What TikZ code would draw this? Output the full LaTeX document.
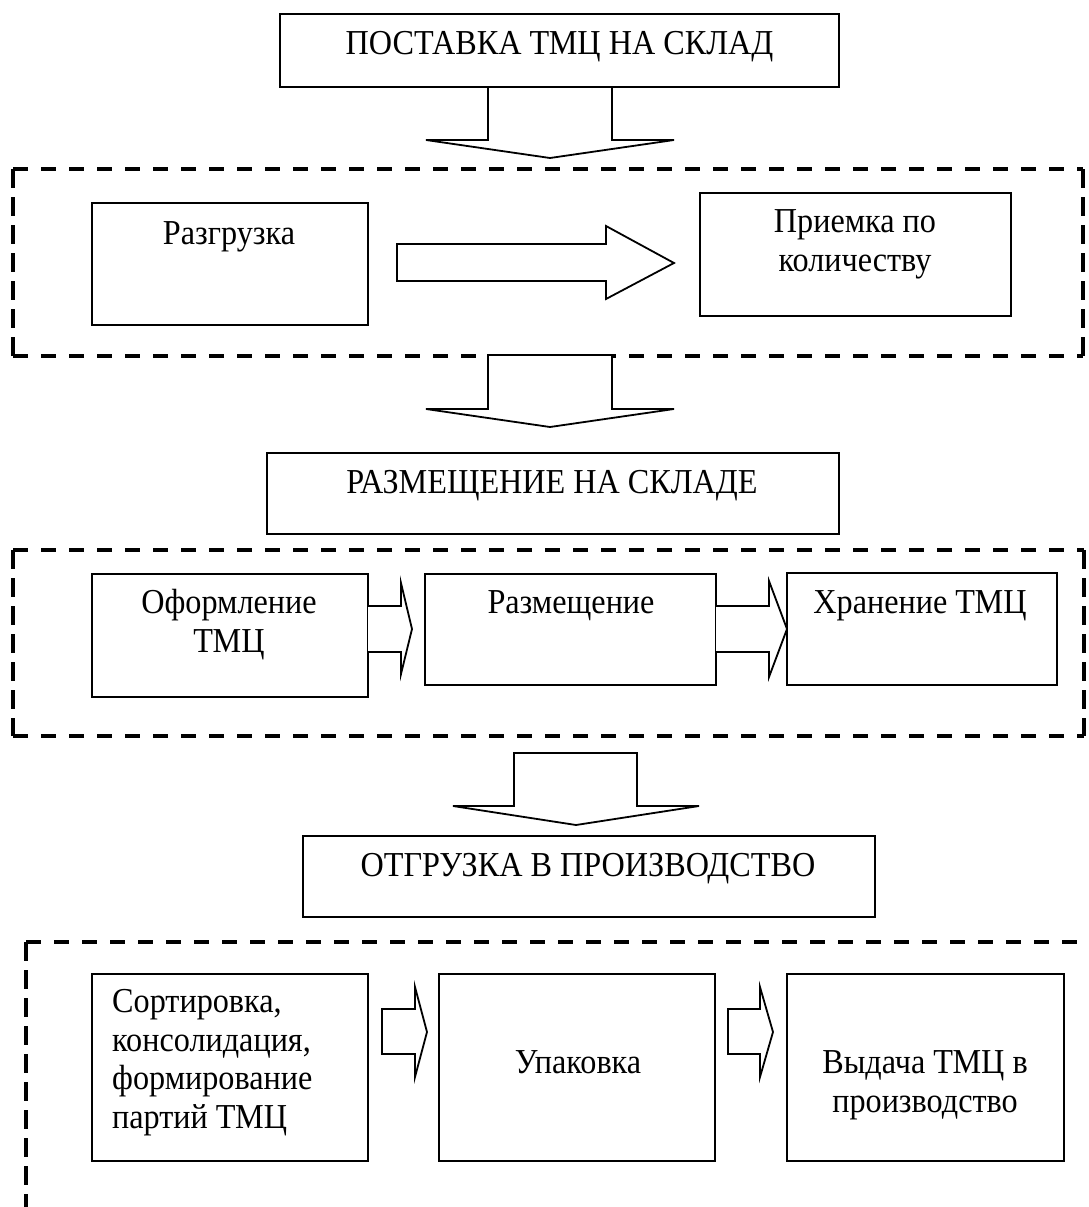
\documentclass[tikz,border=0pt]{standalone}
\usepackage{fontspec}
\setmainfont[FakeStretch=0.92]{Liberation Serif}
\begin{document}
\begin{tikzpicture}[x=1pt,y=-1pt,
  box/.style={draw, line width=1.8pt, inner sep=0pt, rectangle},
  txt/.style={inner sep=0pt, font=\fontsize{35}{38.5}\selectfont, align=center, anchor=base},
  grph/.style={line width=4.5pt, dash pattern=on 15pt off 13pt},
  grpv/.style={line width=4.5pt, dash pattern=on 19pt off 9pt},
  blk/.style={draw, fill=white, line width=1.8pt, line join=miter}]
\useasboundingbox (0,0) rectangle (1089,1207);

% dashed group frames
\draw[grph] (13,169) -- (1083,169);
\draw[grph] (13,356) -- (1083,356);
\draw[grpv] (13,169) -- (13,356);
\draw[grpv] (1083,169) -- (1083,356);

\draw[grph] (13,550) -- (1084,550);
\draw[grph] (13,736) -- (1084,736);
\draw[grpv] (13,550) -- (13,736);
\draw[grpv] (1084,550) -- (1084,736);

\draw[grph] (26,942) -- (1095,942);
\draw[grpv] (26,942) -- (26,1215);

% boxes
\node[box, minimum width=559, minimum height=73] (top) at (559.5,50.5) {};
\node[box, minimum width=276, minimum height=122] (razgr) at (230,264) {};
\node[box, minimum width=311, minimum height=123] (priem) at (855.5,254.5) {};
\node[box, minimum width=572, minimum height=81] (razmtop) at (553,493.5) {};
\node[box, minimum width=276, minimum height=123] (oform) at (230,635.5) {};
\node[box, minimum width=291, minimum height=111] (razm) at (570.5,629.5) {};
\node[box, minimum width=270, minimum height=112] (hran) at (922,629) {};
\node[box, minimum width=572, minimum height=81] (otgr) at (589,876.5) {};
\node[box, minimum width=276, minimum height=187] (sort) at (230,1067.5) {};
\node[box, minimum width=276, minimum height=187] (upak) at (577,1067.5) {};
\node[box, minimum width=277, minimum height=187] (vyd) at (925.5,1067.5) {};

% texts (base anchor = baseline of the last line)
\node[txt] (ttop) at (559.5,55) {ПОСТАВКА ТМЦ НА СКЛАД};
\node[txt] (trazgr) at (229,244) {Разгрузка};
\node[txt] (tpriem) at (855,271) {Приемка по\\количеству};
\node[txt] (trazmtop) at (552,493) {РАЗМЕЩЕНИЕ НА СКЛАДЕ};
\node[txt] (toform) at (229,652) {Оформление\\ТМЦ};
\node[txt] (trazm) at (571,613) {Размещение};
\node[txt] (thran) at (920,613) {Хранение ТМЦ};
\node[txt] (totgr) at (588,876) {ОТГРУЗКА В ПРОИЗВОДСТВО};
\node[txt, align=left, anchor=base west] (tsort) at (112,1128) {Сортировка,\\консолидация,\\формирование\\партий ТМЦ};
\node[txt] (tupak) at (578,1073) {Упаковка};
\node[txt] (tvyd) at (925,1112) {Выдача ТМЦ в\\производство};

% block arrows
\draw[blk] (488,87) -- (488,140) -- (426,140) -- (550,158) -- (674,140) -- (612,140) -- (612,87) -- cycle;
\draw[blk] (488,355) -- (488,409) -- (426,409) -- (550,427) -- (674,409) -- (612,409) -- (612,355) -- cycle;
\draw[blk] (514,753) -- (514,806) -- (453,806) -- (576,825) -- (699,806) -- (637,806) -- (637,753) -- cycle;

\draw[blk] (397,244) -- (606,244) -- (606,226) -- (674,263) -- (606,299) -- (606,281) -- (397,281) -- cycle;

\draw[blk] (368,606) -- (401,606) -- (401,583) -- (412,629) -- (401,674) -- (401,652) -- (368,652);
\draw[blk] (716,606) -- (769,606) -- (769,581) -- (787,629) -- (769,677) -- (769,652) -- (716,652);

\draw[blk] (382,1009) -- (415,1009) -- (415,987) -- (427,1032) -- (415,1077) -- (415,1054) -- (382,1054) -- cycle;
\draw[blk] (728,1009) -- (760,1009) -- (760,987) -- (773,1032) -- (760,1077) -- (760,1054) -- (728,1054) -- cycle;
\end{tikzpicture}
\end{document}
